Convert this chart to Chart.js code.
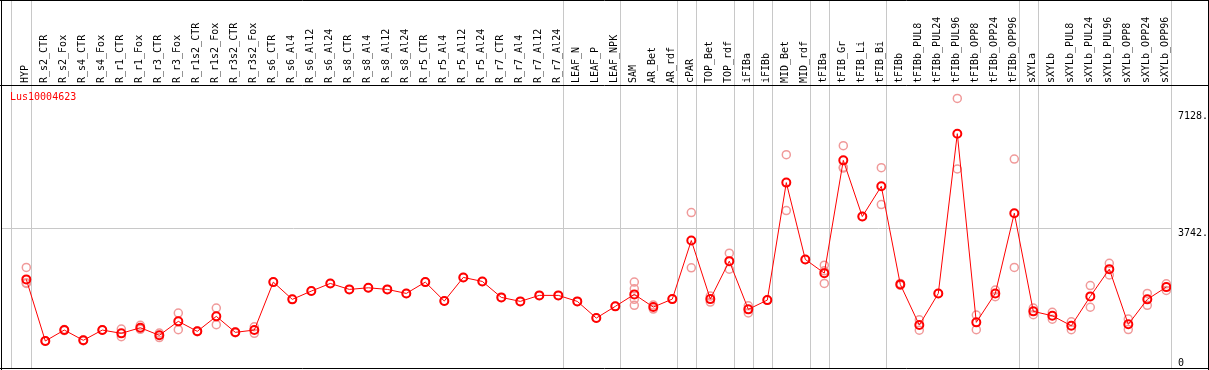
<!DOCTYPE html>
<html>
<head>
<meta charset="utf-8">
<script src="https://cdn.jsdelivr.net/npm/chart.js@4.4.1/dist/chart.umd.min.js"></script>
<style>
  html, body { margin: 0; padding: 0; background: #fff; }
  canvas { display: block; }
</style>
</head>
<body>
<canvas id="chart" width="1209" height="370"></canvas>
<script>
const geneName = 'Lus10004623'

const columns = [
    'HYP', 'R_s2_CTR', 'R_s2_Fox', 'R_s4_CTR', 'R_s4_Fox', 'R_r1_CTR', 'R_r1_Fox', 'R_r3_CTR', 'R_r3_Fox',
    'R_r1s2_CTR', 'R_r1s2_Fox', 'R_r3s2_CTR', 'R_r3s2_Fox', 'R_s6_CTR', 'R_s6_Al4', 'R_s6_Al12', 'R_s6_Al24',
    'R_s8_CTR', 'R_s8_Al4', 'R_s8_Al12', 'R_s8_Al24', 'R_r5_CTR', 'R_r5_Al4', 'R_r5_Al12', 'R_r5_Al24',
    'R_r7_CTR', 'R_r7_Al4', 'R_r7_Al12', 'R_r7_Al24', 'LEAF_N', 'LEAF_P', 'LEAF_NPK', 'SAM', 'AR_Bet', 'AR_rdf',
    'cPAR', 'TOP_Bet', 'TOP_rdf', 'iFIBa', 'iFIBb', 'MID_Bet', 'MID_rdf', 'tFIBa', 'tFIB_Gr', 'tFIB_Li', 'tFIB_Bi',
    'tFIBb', 'tFIBb_PUL8', 'tFIBb_PUL24', 'tFIBb_PUL96', 'tFIBb_OPP8', 'tFIBb_OPP24', 'tFIBb_OPP96',
    'sXYLa', 'sXYLb', 'sXYLb_PUL8', 'sXYLb_PUL24', 'sXYLb_PUL96', 'sXYLb_OPP8', 'sXYLb_OPP24', 'sXYLb_OPP96'
]

// mean expression per column
const means = [
    2267, 490, 806, 510, 806, 711, 873, 654, 1057, 769, 1201, 740, 806,
    2189, 1691, 1930, 2151, 1979, 2025, 1979, 1863, 2189, 1642, 2324, 2209,
    1748, 1633, 1806, 1806, 1633, 1152, 1489, 1835, 1469, 1699,
    3390, 1699, 2794, 1403, 1670, 5060, 2843, 2448, 5702, 4081, 4954,
    2123, 950, 1863, 6471, 1028, 1863, 4176,
    1345, 1218, 930, 1777, 2563, 971, 1691, 2045
]

// single replicates per column
const replicates = [
    [2612, 2170, 2150], [480, 500], [790, 820], [500, 520], [800, 812], [835, 613], [942, 827], [720, 590],
    [1296, 818], [760, 778], [1440, 962], [730, 750], [901, 711],
    [2189], [1691], [1930], [2151], [1979], [2025], [1979], [1863], [2189], [1642], [2324], [2209],
    [1748], [1633], [1806], [1806], [1633], [1152], [1489], [2189, 1996, 1691, 1518], [1526, 1412], [1699],
    [4196, 2601], [1786, 1613], [3024, 2563], [1506, 1300], [1670], [5867, 4254], [2843], [2678, 2151, 2515],
    [6126, 5500, 5480], [4081], [5492, 4427],
    [2150, 2096], [1100, 800], [1863], [7490, 5452], [1240, 816], [1958, 1768], [5740, 2612],
    [1440, 1250], [1318, 1118], [1045, 815], [2090, 1464], [2730, 2396], [1123, 819], [1862, 1520], [2140, 1950]
]

// columns after which a group separator is drawn
const groupEnds = [0, 28, 31, 34, 35, 37, 38, 39, 41, 42, 45, 52, 53, 60]

const yTicks = [0, 3742, 7128]
const yTickLabels = ['0', '3742.', '7128.']

const monoFont = {family: 'DejaVu Sans Mono', size: 10}

const replicatePoints = []
replicates.forEach((reps, i) => reps.forEach(v => replicatePoints.push({x: i, y: v})))

const framePlugin = {
    id: 'frame',
    beforeDatasetsDraw(chart) {
        const ctx = chart.ctx
        const x = chart.scales.x
        ctx.save()
        ctx.strokeStyle = '#c8c8c8'
        ctx.lineWidth = 1
        const seps = [-0.821, ...groupEnds.map(i => i + 0.237)]
        seps.forEach(s => {
            const px = Math.round(x.getPixelForValue(s)) + 0.5
            ctx.beginPath()
            ctx.moveTo(px, 0)
            ctx.lineTo(px, chart.chartArea.bottom)
            ctx.stroke()
        })
        ctx.restore()
    },
    afterDraw(chart) {
        const ctx = chart.ctx
        ctx.save()
        ctx.strokeStyle = '#000'
        ctx.lineWidth = 1
        ctx.beginPath()
        ctx.moveTo(0, 0.5); ctx.lineTo(1209, 0.5)
        ctx.moveTo(0, 85.5); ctx.lineTo(1209, 85.5)
        ctx.moveTo(0, 368.5); ctx.lineTo(1209, 368.5)
        ctx.moveTo(1.5, 0); ctx.lineTo(1.5, 370)
        ctx.moveTo(1208.5, 0); ctx.lineTo(1208.5, 370)
        ctx.stroke()
        ctx.fillStyle = '#ff0000'
        ctx.font = '10px "DejaVu Sans Mono"'
        ctx.textBaseline = 'top'
        ctx.fillText(geneName, 10, 92)
        ctx.restore()
    }
}

new Chart(document.getElementById('chart'), {
    type: 'scatter',
    data: {
        datasets: [
            {
                label: 'mean',
                data: means.map((v, i) => ({x: i, y: v})),
                showLine: true,
                borderColor: '#ff0000',
                borderWidth: 1,
                pointRadius: 4,
                pointBorderWidth: 2,
                pointBorderColor: '#ff0000',
                pointBackgroundColor: 'rgba(0,0,0,0)',
                order: 0
            },
            {
                label: 'replicates',
                data: replicatePoints,
                showLine: false,
                pointRadius: 4,
                pointBorderWidth: 1.5,
                pointBorderColor: '#f09a9a',
                pointBackgroundColor: 'rgba(0,0,0,0)',
                order: 1
            }
        ]
    },
    options: {
        responsive: false,
        animation: false,
        layout: {autoPadding: false, padding: {left: 1, right: 0, top: 0, bottom: 2}},
        plugins: {
            legend: {display: false},
            tooltip: {enabled: false}
        },
        scales: {
            x: {
                type: 'linear',
                position: 'top',
                min: -1.332,
                max: 60.247,
                afterBuildTicks: s => { s.ticks = columns.map((c, i) => ({value: i})) },
                afterFit: s => {
                    s.height = 85
                    s.paddingLeft = 0
                    s.paddingRight = 0
                },
                grid: {display: false, drawTicks: false},
                border: {display: false},
                ticks: {
                    autoSkip: false,
                    minRotation: 90,
                    maxRotation: 90,
                    padding: 2,
                    labelOffset: 11,
                    color: '#000',
                    font: monoFont,
                    callback: v => columns[v]
                }
            },
            y: {
                type: 'linear',
                position: 'right',
                min: -289,
                max: 7876,
                afterBuildTicks: s => { s.ticks = yTicks.map(v => ({value: v})) },
                afterFit: s => {
                    s.width = 38
                    s.paddingTop = 0
                    s.paddingBottom = 0
                },
                grid: {
                    drawTicks: false,
                    color: c => (c.tick && c.tick.value === 3742) ? '#c8c8c8' : 'rgba(0,0,0,0)'
                },
                border: {display: false},
                ticks: {
                    padding: 7,
                    labelOffset: 5,
                    color: '#000',
                    font: monoFont,
                    callback: v => yTickLabels[yTicks.indexOf(v)]
                }
            }
        }
    },
    plugins: [framePlugin]
})
</script>
</body>
</html>
